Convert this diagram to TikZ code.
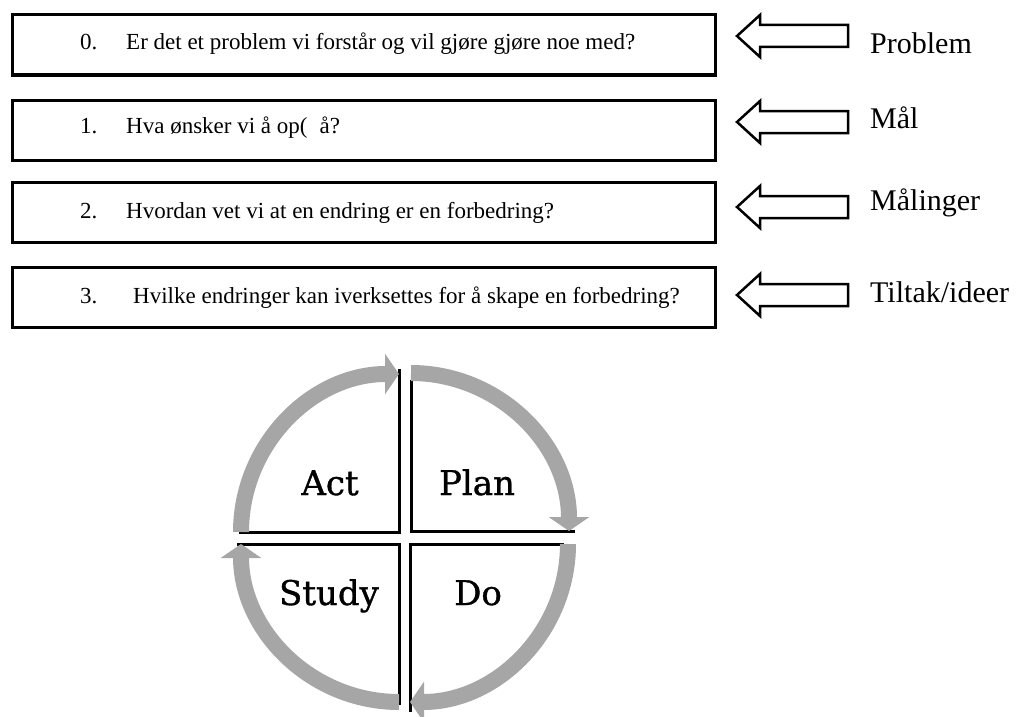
\documentclass[tikz,border=0pt]{standalone}
\usepackage{fontspec}
\setmainfont{Liberation Serif}
\newfontfamily\pdcafont[FakeBold=1]{DejaVu Serif}
\usetikzlibrary{arrows.meta}
\definecolor{cyclegray}{RGB}{166,166,166}
\tikzset{
  qbox/.style={draw, line width=3pt, minimum width=703pt, minimum height=60pt, inner sep=0pt},
  qtext/.style={anchor=base west, inner sep=0pt, font=\fontsize{23}{27}\selectfont},
  tag/.style={anchor=base west, inner sep=0pt, font=\fontsize{30}{34}\selectfont},
  blockarrow/.style={draw, line width=2.5pt, line join=miter, fill=white},
  quadline/.style={line width=3pt, line cap=rect},
  cyclearc/.style={cyclegray, line width=16pt, -{Triangle[width=40pt,length=14pt]}},
  phase/.style={anchor=base, inner sep=0pt, font=\pdcafont\fontsize{34}{40}\selectfont}
}
\begin{document}
\begin{tikzpicture}[x=1pt,y=1pt]
\useasboundingbox (0,0) rectangle (1017,-717);

% question boxes
\node[qbox] (b0) at (363.5,-45) {};
\node[qbox] (b1) at (363.5,-130) {};
\node[qbox] (b2) at (363.5,-212) {};
\node[qbox] (b3) at (363.5,-297) {};

\node[qtext] (q0) at (80,-50) {\makebox[46pt][l]{0.}Er det et problem vi forstår og vil gjøre gjøre noe med?};
\node[qtext] (q1) at (80,-133) {\makebox[46pt][l]{1.}Hva ønsker vi å op(\hspace{12pt}å?};
\node[qtext] (q2) at (80,-218) {\makebox[46pt][l]{2.}Hvordan vet vi at en endring er en forbedring?};
\node[qtext] (q3) at (80,-303) {\makebox[53pt][l]{3.}Hvilke endringer kan iverksettes for å skape en forbedring?};

% outlined block arrows pointing at the boxes
\foreach \c in {-36,-122,-207,-295}{
  \draw[blockarrow] (848,\c+11) -- (760,\c+11) -- (760,\c+21) -- (737,\c)
    -- (760,\c-21) -- (760,\c-11) -- (848,\c-11) -- cycle;
}

\node[tag] (t0) at (870,-53) {Problem};
\node[tag] (t1) at (870,-128) {Mål};
\node[tag] (t2) at (870,-210) {Målinger};
\node[tag] (t3) at (870,-302) {Tiltak/ideer};

% PDCA cycle: quadrant corners
\coordinate (cA) at (399,-532);
\coordinate (cP) at (411,-531);
\coordinate (cD) at (410,-544);
\coordinate (cS) at (399,-544);

% straight quadrant edges
\draw[quadline] ([yshift=162pt]cA) -- (cA) -- ([xshift=-159pt]cA);
\draw[quadline] ([yshift=150pt]cP) -- (cP) -- ([xshift=162pt]cP);
\draw[quadline] ([xshift=152pt]cD) -- (cD) -- ([yshift=-166pt]cD);
\draw[quadline] ([xshift=-161pt]cS) -- (cS) -- ([yshift=-159pt]cS);

% curved gray arrows
\draw[cyclearc] ([xshift=-158pt]cA) arc[start angle=180, end angle=90, radius=158pt];
\draw[cyclearc] ([yshift=158pt]cP) arc[start angle=90, end angle=0, radius=158pt];
\draw[cyclearc] ([xshift=158pt]cD) arc[start angle=0, end angle=-90, radius=158pt];
\draw[cyclearc] ([yshift=-158pt]cS) arc[start angle=270, end angle=180, radius=158pt];

% phase labels
\node[phase] (act) at (330,-495) {Act};
\node[phase] (plan) at (477,-495) {Plan};
\node[phase] (study) at (329,-605) {Study};
\node[phase] (do) at (478,-605) {Do};
\end{tikzpicture}
\end{document}
